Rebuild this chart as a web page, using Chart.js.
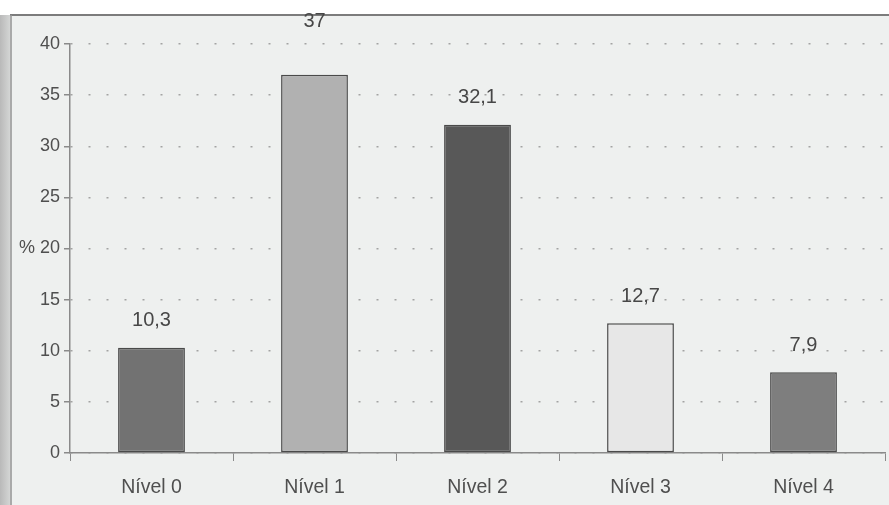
<!DOCTYPE html>
<html>
<head>
<meta charset="utf-8">
<script src="https://cdn.jsdelivr.net/npm/chart.js@4"></script>
<style>
  html, body { margin: 0; padding: 0; background: #ffffff; }
  #wrap { width: 889px; height: 505px; }
</style>
</head>
<body>
<div id="wrap"><canvas id="myChart"></canvas></div>
<script>
const labels = ['Nível 0', 'Nível 1', 'Nível 2', 'Nível 3', 'Nível 4'];
const values = [10.3, 37, 32.1, 12.7, 7.9];
const barColors = ['#727272', '#b1b1b1', '#585858', '#e7e7e7', '#7e7e7e'];
const yTicks = [0, 5, 10, 15, 20, 25, 30, 35, 40];

const FONT = 'Liberation Sans, Arial, sans-serif';

// scanned page look: white margin, dark left edge, frame lines
const pageBackground = {
    id: 'pageBackground',
    beforeDraw(chart) {
        const c = chart.ctx;
        const w = chart.width, h = chart.height;
        c.save();
        c.fillStyle = '#ffffff';
        c.fillRect(0, 0, w, h);
        const g = c.createLinearGradient(0, 0, 12, 0);
        g.addColorStop(0, '#b9b9b9');
        g.addColorStop(1, '#d9dbda');
        c.fillStyle = g;
        c.fillRect(0, 15, 12, h - 15);
        c.fillStyle = '#eef0ef';
        c.fillRect(12, 15, w - 12, h - 15);
        c.strokeStyle = '#7c7c7c';
        c.lineWidth = 2;
        c.beginPath();
        c.moveTo(10, 15);
        c.lineTo(w, 15);
        c.stroke();
        c.strokeStyle = '#9a9a9a';
        c.lineWidth = 1.5;
        c.beginPath();
        c.moveTo(11, 15);
        c.lineTo(11, h);
        c.stroke();
        c.restore();
    }
};

// value labels above bars, decimal comma
const valueLabels = {
    id: 'valueLabels',
    afterDatasetsDraw(chart) {
        const c = chart.ctx;
        const top = chart.chartArea.top;
        c.save();
        c.font = '20px ' + FONT;
        c.fillStyle = '#474747';
        c.textAlign = 'center';
        c.textBaseline = 'middle';
        chart.getDatasetMeta(0).data.forEach((bar, i) => {
            let y = bar.y - 27;
            if (y < top + 12) y = top - 23;
            c.fillText(String(values[i]).replace('.', ','), bar.x, y);
        });
        c.restore();
    }
};

const data = {
    labels: labels,
    datasets: [
        {
            data: values,
            backgroundColor: barColors,
            borderColor: '#4a4a4a',
            borderWidth: 1.5,
            borderSkipped: false,
            barPercentage: 0.41,
            categoryPercentage: 1
        }
    ]
};

const config = {
    type: 'bar',
    data: data,
    options: {
        responsive: true,
        maintainAspectRatio: false,
        animation: false,
        layout: {
            padding: {left: 0, right: 4, top: 44, bottom: 0}
        },
        plugins: {
            legend: {display: false},
            tooltip: {enabled: false}
        },
        scales: {
            x: {
                afterFit(scale) { scale.height = 52; },
                border: {display: true, color: '#8a8a8a', width: 1.5},
                grid: {
                    offset: true,
                    drawOnChartArea: false,
                    drawTicks: true,
                    tickLength: 8,
                    tickColor: '#8a8a8a'
                },
                ticks: {
                    color: '#4f4f4f',
                    padding: 15,
                    font: {family: FONT, size: 19.5}
                }
            },
            y: {
                min: 0,
                max: 40,
                afterFit(scale) { scale.width = 70; },
                afterBuildTicks(scale) {
                    scale.ticks = yTicks.map(v => ({value: v}));
                },
                // axis line solid, grid lines dotted
                border: {display: true, color: '#8a8a8a', width: 1.5, dash: [2, 16]},
                grid: {
                    color: '#a3a3a3',
                    lineWidth: 1.5,
                    tickLength: 6,
                    tickColor: '#8a8a8a',
                    tickBorderDash: []
                },
                ticks: {
                    color: '#4f4f4f',
                    padding: 4,
                    font: {family: FONT, size: 18},
                    callback: v => (v === 20 ? '% 20' : String(v))
                }
            }
        }
    },
    plugins: [pageBackground, valueLabels]
};

const myChart = new Chart(document.getElementById('myChart'), config);
</script>
</body>
</html>
